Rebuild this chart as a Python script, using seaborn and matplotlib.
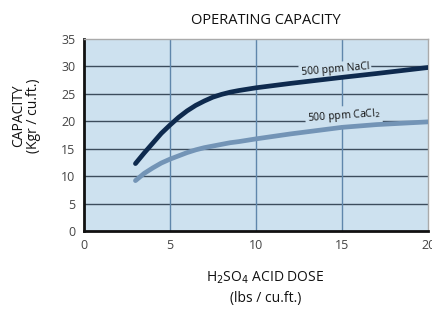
import numpy as np
import pandas as pd
import matplotlib.pyplot as plt
import seaborn as sns

# data
dose = [3, 3.5, 4, 4.5, 5, 5.5, 6, 6.5, 7, 7.5, 8, 8.5, 9, 10, 12, 15, 17, 20]
nacl = [12.3, 14.2, 16.0, 17.8, 19.3, 20.7, 21.9, 22.9, 23.7, 24.4, 24.9, 25.3, 25.6, 26.1, 26.9, 28.0, 28.7, 29.8]
cacl2 = [9.2, 10.5, 11.5, 12.4, 13.1, 13.7, 14.3, 14.8, 15.2, 15.5, 15.8, 16.1, 16.3, 16.8, 17.7, 18.9, 19.4, 19.9]

df = pd.DataFrame({'dose': dose, 'NaCl': nacl, 'CaCl2': cacl2})

sns.set_style('white')
plt.rcParams['font.family'] = ['Open Sans', 'DejaVu Sans']

fig = plt.figure(figsize=(4.32, 3.09), dpi=100)
ax = fig.add_axes([0.194, 0.252, 0.797, 0.622])
ax.set_facecolor('#cde1ef')

# grid
for y in [5, 10, 15, 20, 25, 30]:
    ax.axhline(y, color='#3c4c5c', lw=1, zorder=1)
for x in [5, 10, 15]:
    ax.axvline(x, color='#5f86ab', lw=1, zorder=1)

sns.lineplot(data=df, x='dose', y='NaCl', ax=ax, color='#0e2a4e', lw=3.4, zorder=3)
sns.lineplot(data=df, x='dose', y='CaCl2', ax=ax, color='#7394b6', lw=3.4, zorder=3)

box = dict(facecolor='#cde1ef', edgecolor='none', pad=1.5)
ax.text(14.6, 29.4, '500 ppm NaCl', fontsize=7.5, rotation=5, ha='center', va='center',
        color='#111', bbox=box, zorder=2)
ax.text(15.1, 21.0, '500 ppm CaCl$_2$', fontsize=7.5, rotation=4, ha='center', va='center',
        color='#111', bbox=box, zorder=2)

ax.set_xlim(0, 20)
ax.set_ylim(0, 35)
ax.set_xticks([0, 5, 10, 15, 20])
ax.set_yticks([0, 5, 10, 15, 20, 25, 30, 35])
ax.tick_params(length=0, labelsize=9, labelcolor='#444', pad=6)
ax.set_xlabel('')
ax.set_ylabel('')
for s in ['top', 'right']:
    ax.spines[s].set_color('#aaaaaa')
    ax.spines[s].set_linewidth(1)
for s in ['left', 'bottom']:
    ax.spines[s].set_color('#111111')
    ax.spines[s].set_linewidth(2)

fig.text(0.616, 0.935, 'OPERATING CAPACITY', ha='center', va='center', fontsize=10.5, color='#111')
fig.text(0.06, 0.625, 'CAPACITY\n(Kgr / cu.ft.)', ha='center', va='center', rotation=90,
         fontsize=10, color='#111', linespacing=1.0)
fig.text(0.614, 0.1, 'H$_2$SO$_4$ ACID DOSE', ha='center', va='center', fontsize=10, color='#111')
fig.text(0.614, 0.035, '(lbs / cu.ft.)', ha='center', va='center', fontsize=10, color='#111')

fig.savefig('out.png', dpi=100)
